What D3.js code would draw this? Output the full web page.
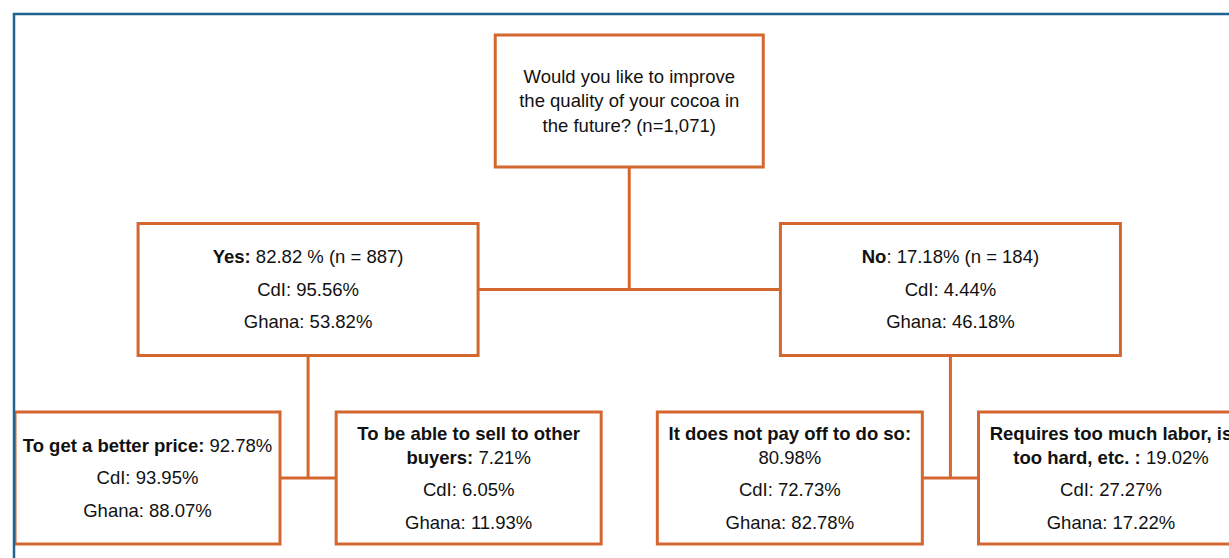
<!DOCTYPE html>
<html>
<head>
<meta charset="utf-8">
<script src="https://cdn.jsdelivr.net/npm/d3@7/dist/d3.min.js"></script>
<style>
  body { margin: 0; background: #fff; }
  svg { display: block; }
</style>
</head>
<body>
<div id="tree"></div>
<script>
// question at the root, as it is wrapped in the box
var questionLines = ["Would you like to improve", "the quality of your cocoa in", "the future? (n=1,071)"];

// first split: answers
var answerHeads = ["Yes:", "No"];
var answerShares = ["82.82 %", "17.18%"];
var answerN = [887, 184];
var answerCdI = [95.56, 4.44];
var answerGhana = [53.82, 46.18];

// second split: reasons, grouped under the answers
var reasonParent = [0, 0, 1, 1];
var reasonLabels = [
  ["To get a better price:"],
  ["To be able to sell to other", "buyers:"],
  ["It does not pay off to do so:"],
  ["Requires too much labor, is", "too hard, etc. :"]
];
var reasonShares = [92.78, 7.21, 80.98, 19.02];
var reasonCdI = [93.95, 6.05, 72.73, 27.27];
var reasonGhana = [88.07, 11.93, 82.78, 17.22];

(function () {
  var width = 1229, height = 558;
  var orange = "#d4672f", blue = "#1f6490";
  var fontSize = 18.5, lineH = 23.5, paraGap = 9;
  var boxH = 132;
  var boxW = [268, 340, 265];          // by depth
  var pct = function (v) { return d3.format(".2f")(v) + "%"; };

  var svg = d3.select("#tree")
    .append("svg")
    .attr("width", width)
    .attr("height", height)
    .style("font-family", "'Liberation Sans', Arial, sans-serif")
    .style("font-size", fontSize + "px");

  // measure helper, for wrapping the share onto its own line when needed
  var probe = svg.append("text").attr("visibility", "hidden");
  function textW(runs) {
    probe.selectAll("tspan").remove();
    runs.forEach(function (r) {
      probe.append("tspan").text(r[0]).attr("font-weight", r[1] ? "bold" : null);
    });
    return probe.node().getComputedTextLength();
  }

  // build the tree
  var root = {
    paras: [questionLines.map(function (l) { return [[l, 0]]; })],
    children: answerHeads.map(function (h, i) {
      return {
        paras: [
          [[[h, 1], [(h === "No" ? ": " : " ") + answerShares[i] + " (n = " + answerN[i] + ")", 0]]],
          [[["CdI: " + pct(answerCdI[i]), 0]]],
          [[["Ghana: " + pct(answerGhana[i]), 0]]]
        ],
        children: []
      };
    })
  };
  reasonLabels.forEach(function (lab, i) {
    var lines = lab.map(function (l) { return [[l, 1]]; });
    var last = lines[lines.length - 1].concat([[" " + pct(reasonShares[i]), 0]]);
    if (textW(last) <= boxW[2] - 6) lines[lines.length - 1] = last;
    else lines.push([[pct(reasonShares[i]), 0]]);
    root.children[reasonParent[i]].children.push({
      paras: [lines, [[["CdI: " + pct(reasonCdI[i]), 0]]], [[["Ghana: " + pct(reasonGhana[i]), 0]]]]
    });
  });
  probe.remove();

  var hier = d3.hierarchy(root);
  d3.tree().size([1, 2]).separation(function () { return 1; })(hier);

  // leaves sit evenly across the page, parents centred over their children
  var x = d3.scaleLinear()
    .domain(d3.extent(hier.leaves(), function (d) { return d.x; }))
    .range([147.5, 1111]);
  var top = d3.scaleLinear().domain([0, 2]).range([35, 412]);

  var nodes = hier.descendants();
  nodes.forEach(function (d) {
    d.cx = x(d.x);
    d.w = boxW[d.depth];
    d.x0 = d.cx - d.w / 2;
    d.x1 = d.cx + d.w / 2;
    d.y0 = top(d.depth);
    d.y1 = d.y0 + boxH;
    d.my = d.y0 + boxH / 2;
  });

  // connectors
  var links = svg.append("g")
    .attr("stroke", orange)
    .attr("stroke-width", 3)
    .attr("fill", "none");
  nodes.filter(function (d) { return d.children; }).forEach(function (d) {
    var a = d.children[0], b = d.children[d.children.length - 1];
    links.append("line")
      .attr("x1", d.cx).attr("x2", d.cx)
      .attr("y1", d.y1).attr("y2", a.my);
    links.append("line")
      .attr("x1", a.x1).attr("x2", b.x0)
      .attr("y1", a.my).attr("y2", a.my);
  });

  // boxes
  var g = svg.selectAll(".node")
    .data(nodes)
    .enter().append("g")
    .attr("class", "node");

  g.append("rect")
    .attr("x", function (d) { return d.x0; })
    .attr("y", function (d) { return d.y0; })
    .attr("width", function (d) { return d.w; })
    .attr("height", boxH)
    .attr("fill", "#fff")
    .attr("stroke", orange)
    .attr("stroke-width", 3);

  g.each(function (d) {
    var sel = d3.select(this);
    var rows = [], cur = 0;
    var lh = d.depth === 0 ? 24.5 : lineH;
    d.data.paras.forEach(function (p, pi) {
      if (pi > 0) cur += paraGap;
      p.forEach(function (line, li) {
        if (pi > 0 || li > 0) cur += lh;
        rows.push({ y: cur, runs: line });
      });
    });
    var off = d.my - cur / 2;
    rows.forEach(function (r) {
      var t = sel.append("text")
        .attr("x", d.cx)
        .attr("y", off + r.y)
        .attr("dy", "0.35em")
        .attr("text-anchor", "middle")
        .attr("fill", "#111");
      r.runs.forEach(function (run) {
        t.append("tspan")
          .attr("font-weight", run[1] ? "bold" : null)
          .text(run[0]);
      });
    });
  });

  // outer frame, running off the right and bottom edges
  svg.append("rect")
    .attr("x", 14).attr("y", 14)
    .attr("width", width + 40).attr("height", height + 40)
    .attr("fill", "none")
    .attr("stroke", blue)
    .attr("stroke-width", 2.5);
})();
</script>
</body>
</html>
